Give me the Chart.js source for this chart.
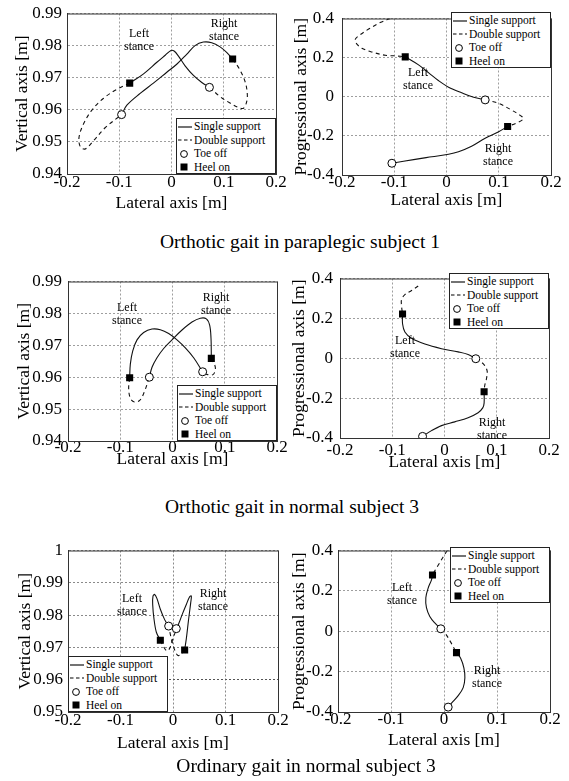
<!DOCTYPE html>
<html>
<head>
<meta charset="utf-8">
<title>Gait trajectories</title>
<script src="https://cdn.jsdelivr.net/npm/chart.js"></script>
<style>
    body { margin: 0; background: #fff; }
    #page {
        position: relative;
        width: 569px;
        height: 781px;
        overflow: hidden;
        font-family: "Liberation Serif", "Times New Roman", serif;
        color: #000;
    }
    canvas { position: absolute; }
    .legend {
        position: absolute;
        width: 100px;
        height: 56px;
        box-sizing: border-box;
        padding-top: 1px;
        background: #fff;
        border: 1px solid #222;
        font-size: 11.5px;
    }
    .legend div {
        height: 13.5px;
        line-height: 13.5px;
        display: flex;
        align-items: center;
        white-space: nowrap;
    }
    .legend svg { width: 16px; height: 10px; margin-right: 1px; flex: none; }
    .stance {
        position: absolute;
        font-size: 12px;
        line-height: 13px;
        text-align: center;
        transform: translateX(-50%);
        white-space: nowrap;
    }
    .caption {
        position: absolute;
        font-size: 19.5px;
        transform: translate(-50%, -50%);
        white-space: nowrap;
    }
    #preload { position: absolute; left: -999px; top: 0; font-family: "Liberation Serif"; }
</style>
</head>
<body>
<div id="preload">0.99 Lateral axis</div>
<div id="page"></div>

<script>
    // tick values
    const latTicks = [-0.2, -0.1, 0, 0.1, 0.2];
    const vertTicksA = [0.94, 0.95, 0.96, 0.97, 0.98, 0.99];
    const vertTicksB = [0.95, 0.96, 0.97, 0.98, 0.99, 1];
    const progTicks = [-0.4, -0.2, 0, 0.2, 0.4];

    // 1: orthotic gait, paraplegic subject 1 - vertical vs lateral
    const single1a = [[-0.080,0.9683],[-0.0535,0.9712],[-0.028,0.9748],[-0.012,0.9770],[-0.001,0.9785],[0.005,0.9783],[0.013,0.9768],[0.026,0.9737],[0.042,0.9707],[0.058,0.9685],[0.073,0.9670]];
    const single1b = [[-0.0955,0.9585],[-0.085,0.9615],[-0.060,0.9651],[-0.034,0.9684],[-0.009,0.9717],[0.010,0.9742],[0.029,0.9773],[0.045,0.9800],[0.061,0.9811],[0.077,0.9809],[0.093,0.9796],[0.106,0.9778],[0.117,0.9758]];
    const double1a = [[0.117,0.9758],[0.130,0.9727],[0.141,0.9687],[0.145,0.9651],[0.144,0.9626],[0.138,0.9605],[0.128,0.9607],[0.112,0.9621],[0.093,0.9641],[0.073,0.9670]];
    const double1b = [[-0.080,0.9683],[-0.1045,0.9664],[-0.130,0.9636],[-0.152,0.9600],[-0.169,0.9554],[-0.177,0.9514],[-0.1745,0.9485],[-0.165,0.9478],[-0.149,0.9504],[-0.127,0.9544],[-0.0955,0.9585]];
    const toeOff1 = [[-0.0955,0.9585],[0.0726,0.9670]];
    const heelOn1 = [[-0.080,0.9683],[0.117,0.9758]];

    // 2: orthotic gait, paraplegic subject 1 - progressional vs lateral
    const double2a = [[-0.1076,0.4],[-0.127,0.379],[-0.149,0.346],[-0.167,0.3135],[-0.1745,0.294],[-0.173,0.274],[-0.162,0.248],[-0.143,0.229],[-0.117,0.212],[-0.098,0.209],[-0.079,0.204]];
    const single2a = [[-0.079,0.204],[-0.0535,0.163],[-0.034,0.122],[-0.015,0.082],[0.004,0.049],[0.029,0.020],[0.052,-0.003],[0.074,-0.016]];
    const double2b = [[0.074,-0.016],[0.099,-0.033],[0.125,-0.069],[0.144,-0.101],[0.147,-0.114],[0.134,-0.134],[0.117,-0.152]];
    const single2b = [[0.117,-0.152],[0.099,-0.180],[0.074,-0.212],[0.048,-0.253],[0.023,-0.281],[0.004,-0.294],[-0.028,-0.307],[-0.060,-0.320],[-0.1045,-0.340]];
    const toeOff2 = [[0.074,-0.016],[-0.1045,-0.340]];
    const heelOn2 = [[-0.079,0.204],[0.117,-0.152]];

    // 3: orthotic gait, normal subject 3 - vertical vs lateral
    const single3a = [[-0.082,0.9598],[-0.0807,0.9641],[-0.0762,0.9682],[-0.0679,0.9717],[-0.0552,0.9740],[-0.0392,0.9751],[-0.0233,0.9749],[-0.0073,0.9737],[0.0086,0.9717],[0.0246,0.9692],[0.0405,0.9661],[0.0577,0.9617]];
    const single3b = [[-0.0443,0.9600],[-0.0392,0.9631],[-0.0297,0.9661],[-0.0169,0.9690],[-0.0010,0.9717],[0.0182,0.9748],[0.0373,0.9773],[0.0533,0.9785],[0.0648,0.9783],[0.0711,0.9763],[0.0737,0.9722],[0.0743,0.9659]];
    const double3a = [[-0.082,0.9598],[-0.0839,0.9565],[-0.0807,0.9534],[-0.073,0.9522],[-0.0628,0.9527],[-0.0539,0.9554],[-0.0443,0.9600]];
    const double3b = [[0.0743,0.9659],[0.0807,0.9639],[0.082,0.9623],[0.0775,0.9608],[0.0673,0.9608],[0.0577,0.9617]];
    const toeOff3 = [[-0.0443,0.9600],[0.0577,0.9617]];
    const heelOn3 = [[-0.082,0.9598],[0.0743,0.9659]];

    // 4: orthotic gait, normal subject 3 - progressional vs lateral
    const double4a = [[-0.0503,0.3627],[-0.063,0.340],[-0.0758,0.319],[-0.0822,0.2945],[-0.0822,0.262],[-0.0803,0.2215]];
    const single4a = [[-0.0803,0.2215],[-0.0803,0.173],[-0.0758,0.132],[-0.063,0.100],[-0.0376,0.071],[-0.0057,0.048],[0.0261,0.032],[0.0452,0.019],[0.0599,-0.0024]];
    const double4b = [[0.0599,-0.0024],[0.0739,-0.027],[0.0815,-0.0625],[0.0803,-0.103],[0.0771,-0.1355],[0.0758,-0.168]];
    const single4b = [[0.0758,-0.168],[0.0758,-0.225],[0.0732,-0.249],[0.0643,-0.273],[0.0452,-0.298],[0.0197,-0.319],[-0.0057,-0.338],[-0.0248,-0.363],[-0.042,-0.392]];
    const toeOff4 = [[0.0599,-0.0024],[-0.042,-0.392]];
    const heelOn4 = [[-0.0803,0.2215],[0.0758,-0.168]];

    // 5: ordinary gait, normal subject 3 - vertical vs lateral
    const single5a = [[-0.0241,0.9722],[-0.0317,0.9747],[-0.0362,0.9788],[-0.0387,0.9833],[-0.0381,0.9859],[-0.0349,0.9864],[-0.0305,0.9851],[-0.0241,0.9818],[-0.0159,0.9786],[-0.0083,0.9766]];
    const single5b = [[0.0222,0.9692],[0.0254,0.9727],[0.0298,0.9788],[0.0337,0.9838],[0.0349,0.9859],[0.0317,0.9857],[0.0254,0.9833],[0.0178,0.9803],[0.0108,0.9773],[0.0063,0.9758]];
    const double5a = [[-0.0241,0.9722],[-0.0178,0.9702],[-0.0114,0.9689],[-0.0063,0.9697],[-0.0013,0.9722],[0.0032,0.9742],[0.0063,0.9758]];
    const double5b = [[0.0222,0.9692],[0.0159,0.9679],[0.0095,0.9675],[0.0032,0.9692],[-0.0032,0.9727],[-0.0083,0.9766]];
    const toeOff5 = [[-0.0083,0.9766],[0.0063,0.9758]];
    const heelOn5 = [[-0.0241,0.9722],[0.0222,0.9692]];

    // 6: ordinary gait, normal subject 3 - progressional vs lateral
    const double6a = [[0.006,0.4],[-0.0016,0.3677],[-0.0098,0.332],[-0.0173,0.300],[-0.0217,0.2788]];
    const single6a = [[-0.0217,0.2788],[-0.0236,0.2545],[-0.0299,0.214],[-0.0343,0.166],[-0.0331,0.117],[-0.0268,0.0735],[-0.0173,0.041],[-0.006,0.0121]];
    const double6b = [[-0.006,0.0121],[0.0028,-0.012],[0.0123,-0.0525],[0.0192,-0.085],[0.0236,-0.1059]];
    const single6b = [[0.0236,-0.1059],[0.0312,-0.133],[0.0375,-0.182],[0.0394,-0.230],[0.0362,-0.279],[0.0268,-0.319],[0.0142,-0.356],[0.0079,-0.3758]];
    const toeOff6 = [[-0.006,0.0121],[0.0079,-0.3758]];
    const heelOn6 = [[-0.0217,0.2788],[0.0236,-0.1059]];

    const VERT = 'Vertical axis [m]';
    const PROG = 'Progressional axis [m]';

    // axes box [left, top, right, bottom] in page px, title offsets, tick paddings
    const panels = [
        { box: [67, 10, 276, 174],  yOff: 44, xOff: 29, xPad: 0,  yPad: 5, yTitle: VERT, yTicks: vertTicksA,
          single: [single1a, single1b], dbl: [double1a, double1b], toe: toeOff1, heel: heelOn1,
          legend: [176, 118], left: [139, 33], right: [224, 23] },
        { box: [342, 12, 551, 175], yOff: 40, xOff: 25, xPad: -1, yPad: 8, yTitle: PROG, yTicks: progTicks,
          single: [single2a, single2b], dbl: [double2a, double2b], toe: toeOff2, heel: heelOn2,
          legend: [451, 12], left: [418, 72], right: [498, 148] },
        { box: [68, 277, 277, 441], yOff: 43, xOff: 18, xPad: -2, yPad: 6, yTitle: VERT, yTicks: vertTicksA,
          single: [single3a, single3b], dbl: [double3a, double3b], toe: toeOff3, heel: heelOn3,
          legend: [177, 385], left: [127, 307], right: [216, 297] },
        { box: [340, 273, 549, 438], yOff: 40, xOff: 24, xPad: 4,  yPad: 7, yTitle: PROG, yTicks: progTicks,
          single: [single4a, single4b], dbl: [double4a, double4b], toe: toeOff4, heel: heelOn4,
          legend: [449, 273], left: [405, 340], right: [492, 422] },
        { box: [68, 547, 278, 712], yOff: 42, xOff: 31, xPad: 0,  yPad: 5, yTitle: VERT, yTicks: vertTicksB,
          single: [single5a, single5b], dbl: [double5a, double5b], toe: toeOff5, heel: heelOn5,
          legend: [68, 656], left: [132, 598], right: [213, 593], strongGrid: 0.96 },
        { box: [338, 547, 550, 712], yOff: 38, xOff: 28, xPad: -1, yPad: 5, yTitle: PROG, yTicks: progTicks,
          single: [single6a, single6b], dbl: [double6a, double6b], toe: toeOff6, heel: heelOn6,
          legend: [450, 547], left: [402, 587], right: [487, 670] }
    ];

    const captions = [
        { text: 'Orthotic gait in paraplegic subject 1', x: 300, y: 242 },
        { text: 'Orthotic gait in normal subject 3', x: 292, y: 507 },
        { text: 'Ordinary gait in normal subject 3', x: 306, y: 766 }
    ];

    const SERIF = '"Liberation Serif", "Times New Roman", serif';
    Chart.defaults.font.family = SERIF;
    Chart.defaults.color = '#000';

    const toXY = arr => arr.map(p => ({ x: p[0], y: p[1] }));
    const fmt = v => String(Math.round(v * 100) / 100);

    // box round the plot area
    const framePlugin = {
        id: 'frame',
        afterDraw(chart) {
            const a = chart.chartArea, ctx = chart.ctx;
            ctx.save();
            ctx.strokeStyle = '#333';
            ctx.lineWidth = 1;
            ctx.strokeRect(a.left + 0.5, a.top + 0.5, a.right - a.left, a.bottom - a.top);
            ctx.restore();
        }
    };

    const page = document.getElementById('page');

    function lineSet(data, dashed) {
        return {
            data: toXY(data),
            showLine: true,
            pointRadius: 0,
            borderColor: '#111',
            borderWidth: 1.1,
            borderDash: dashed ? [4, 3.5] : [],
            tension: 0.35,
            fill: false
        };
    }

    function drawPanel(p) {
        const [L, T, R, B] = p.box;
        const W = Math.round(p.yOff + 10.5);
        const H = Math.round(p.xOff + 10.5);
        const cw = R - L + W + 16;
        const ch = B - T + 10 + H + 6;
        const cv = document.createElement('canvas');
        cv.width = cw;
        cv.height = ch;
        cv.style.left = (L - W) + 'px';
        cv.style.top = (T - 10) + 'px';
        cv.style.width = cw + 'px';
        cv.style.height = ch + 'px';
        page.insertBefore(cv, page.firstChild);

        const yT = p.yTicks;
        const gridColor = p.strongGrid
            ? (ctx => Math.abs(ctx.tick.value - p.strongGrid) < 1e-6 ? '#555' : '#8a8a8a')
            : '#9e9e9e';

        new Chart(cv, {
            type: 'scatter',
            data: {
                datasets: [
                    {
                        data: toXY(p.heel),
                        pointStyle: 'rect',
                        pointRadius: 5,
                        pointBackgroundColor: '#000',
                        pointBorderColor: '#000',
                        pointBorderWidth: 0
                    },
                    {
                        data: toXY(p.toe),
                        pointStyle: 'circle',
                        pointRadius: 4,
                        pointBackgroundColor: '#fff',
                        pointBorderColor: '#000',
                        pointBorderWidth: 1
                    },
                    lineSet(p.single[0], false),
                    lineSet(p.single[1], false),
                    lineSet(p.dbl[0], true),
                    lineSet(p.dbl[1], true)
                ]
            },
            options: {
                responsive: false,
                devicePixelRatio: 1,
                animation: false,
                events: [],
                layout: { padding: { left: 0, top: 10, right: 16, bottom: 6 } },
                plugins: { legend: { display: false }, tooltip: { enabled: false } },
                scales: {
                    x: {
                        type: 'linear',
                        min: -0.2,
                        max: 0.2,
                        afterBuildTicks: s => { s.ticks = latTicks.map(v => ({ value: v })); },
                        afterFit: s => { s.height = H; },
                        ticks: {
                            padding: p.xPad,
                            autoSkip: false,
                            maxRotation: 0,
                            font: { family: SERIF, size: 17, lineHeight: 1 },
                            callback: fmt
                        },
                        grid: { color: gridColor, lineWidth: 1, drawTicks: false },
                        border: { display: true, color: '#333', dash: [2, 2] },
                        title: {
                            display: true,
                            text: 'Lateral axis [m]',
                            font: { family: SERIF, size: 17.5, lineHeight: 1.2 },
                            padding: 0
                        }
                    },
                    y: {
                        type: 'linear',
                        min: yT[0],
                        max: yT[yT.length - 1],
                        afterBuildTicks: s => { s.ticks = yT.map(v => ({ value: v })); },
                        afterFit: s => { s.width = W; },
                        ticks: {
                            padding: p.yPad,
                            autoSkip: false,
                            font: { family: SERIF, size: 17, lineHeight: 1 },
                            callback: fmt
                        },
                        grid: { color: gridColor, lineWidth: 1, drawTicks: false },
                        border: { display: true, color: '#333', dash: [2, 2] },
                        title: {
                            display: true,
                            text: p.yTitle,
                            font: { family: SERIF, size: 17.5, lineHeight: 1.2 },
                            padding: 0
                        }
                    }
                }
            },
            plugins: [framePlugin]
        });
    }

    // legends, stance labels and captions as html text
    const icons = {
        single: '<svg viewBox="0 0 16 10"><line x1="1" y1="5" x2="15" y2="5" stroke="#000" stroke-width="1.1"/></svg>',
        dbl: '<svg viewBox="0 0 16 10"><line x1="1" y1="5" x2="15" y2="5" stroke="#000" stroke-width="1.1" stroke-dasharray="3.5,2.5"/></svg>',
        toe: '<svg viewBox="0 0 16 10"><circle cx="7" cy="5" r="3.4" fill="#fff" stroke="#000" stroke-width="1"/></svg>',
        heel: '<svg viewBox="0 0 16 10"><rect x="3.5" y="1.5" width="7" height="7" fill="#000"/></svg>'
    };
    const legendRows = [['single', 'Single support'], ['dbl', 'Double support'], ['toe', 'Toe off'], ['heel', 'Heel on']];

    panels.forEach(p => {
        const lg = document.createElement('div');
        lg.className = 'legend';
        lg.style.left = p.legend[0] + 'px';
        lg.style.top = p.legend[1] + 'px';
        lg.innerHTML = legendRows.map(r => '<div>' + icons[r[0]] + '<span>' + r[1] + '</span></div>').join('');
        page.appendChild(lg);

        [['Left', p.left], ['Right', p.right]].forEach(s => {
            const d = document.createElement('div');
            d.className = 'stance';
            d.style.left = s[1][0] + 'px';
            d.style.top = (s[1][1] - 6.5) + 'px';
            d.innerHTML = s[0] + '<br>stance';
            page.appendChild(d);
        });
    });

    captions.forEach(c => {
        const d = document.createElement('div');
        d.className = 'caption';
        d.style.left = c.x + 'px';
        d.style.top = c.y + 'px';
        d.textContent = c.text;
        page.appendChild(d);
    });

    // canvas text needs the serif face loaded first
    Promise.all([
        document.fonts.load('17px "Liberation Serif"'),
        document.fonts.load('17.5px "Liberation Serif"')
    ]).catch(() => {}).then(() => panels.forEach(drawPanel));
</script>
</body>
</html>
